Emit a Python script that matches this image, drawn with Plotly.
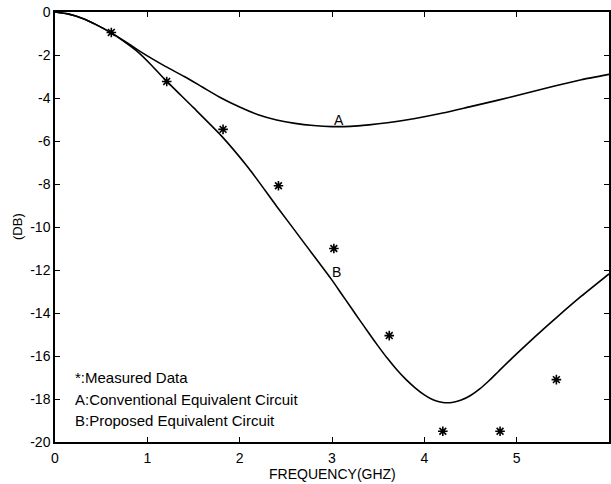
import plotly.graph_objects as go

# Curve A: conventional equivalent circuit
a_freq = [0, 0.15, 0.3, 0.45, 0.6, 0.75, 0.9, 1.05, 1.2, 1.4, 1.6, 1.8, 2.0, 2.2, 2.4, 2.6, 2.8, 3.0, 3.2, 3.4, 3.6, 3.9, 4.2, 4.5, 4.8, 5.1, 5.4, 5.7, 6.0]
a_db = [0, -0.1, -0.3, -0.6, -0.95, -1.35, -1.77, -2.17, -2.54, -3.0, -3.5, -4.0, -4.42, -4.78, -5.02, -5.18, -5.28, -5.33, -5.32, -5.25, -5.15, -4.95, -4.7, -4.4, -4.1, -3.78, -3.45, -3.15, -2.9]

# Curve B: proposed equivalent circuit
b_freq = [0, 0.15, 0.3, 0.45, 0.6, 0.75, 0.9, 1.05, 1.2, 1.5, 1.8, 2.1, 2.4, 2.7, 3.0, 3.1, 3.2, 3.3, 3.4, 3.5, 3.6, 3.7, 3.8, 3.9, 4.0, 4.1, 4.2, 4.3, 4.4, 4.5, 4.6, 4.7, 4.8, 4.97, 5.2, 5.44, 5.7, 6.0]
b_db = [0, -0.1, -0.3, -0.6, -0.95, -1.38, -1.87, -2.5, -3.18, -4.45, -5.75, -7.28, -9.03, -10.75, -12.47, -13.09, -13.71, -14.33, -14.94, -15.54, -16.11, -16.63, -17.09, -17.48, -17.81, -18.05, -18.16, -18.16, -18.05, -17.84, -17.53, -17.15, -16.73, -16.02, -15.1, -14.18, -13.22, -12.18]

# Measured data
m_freq = [0.61, 1.21, 1.82, 2.42, 3.02, 3.62, 4.2, 4.82, 5.43]
m_db = [-0.95, -3.23, -5.46, -8.08, -11.0, -15.05, -19.5, -19.5, -17.1]

x_ticks = [0, 1, 2, 3, 4, 5, 6]
y_ticks = [0, -2, -4, -6, -8, -10, -12, -14, -16, -18, -20]

fnt = "Liberation Sans, Arial, sans-serif"

fig = go.Figure()
fig.add_trace(go.Scatter(x=a_freq, y=a_db, mode="lines",
                         line=dict(color="black", width=1.6, shape="spline", smoothing=0.6),
                         showlegend=False))
fig.add_trace(go.Scatter(x=b_freq, y=b_db, mode="lines",
                         line=dict(color="black", width=1.6, shape="spline", smoothing=0.6),
                         showlegend=False))
fig.add_trace(go.Scatter(x=m_freq, y=m_db, mode="markers",
                         marker=dict(symbol="asterisk-open", size=8, color="black",
                                     line=dict(color="black", width=1.6)),
                         showlegend=False))

fig.update_layout(
    width=611, height=484,
    margin=dict(l=55, r=0, t=12, b=42),
    paper_bgcolor="white", plot_bgcolor="white",
    font=dict(family=fnt, size=14, color="black"),
    xaxis=dict(range=[0, 6], tickvals=x_ticks, ticktext=[str(v) for v in x_ticks],
               showline=True, linecolor="black", linewidth=1.5, mirror="ticks",
               ticks="inside", ticklen=5, tickcolor="black", showgrid=False, zeroline=False,
               tickfont=dict(size=14, family=fnt), ticklabelstandoff=2),
    yaxis=dict(range=[-20, 0], tickvals=y_ticks, ticktext=[str(v) for v in y_ticks],
               showline=True, linecolor="black", linewidth=1.5, mirror="ticks",
               ticks="inside", ticklen=5, tickcolor="black", showgrid=False, zeroline=False,
               tickfont=dict(size=14, family=fnt)),
    annotations=[
        dict(text="FREQUENCY(GHZ)", xref="paper", yref="paper", x=0.5, y=0,
             yanchor="top", yshift=-22, showarrow=False, font=dict(size=14, family=fnt)),
        dict(text="(DB)", xref="paper", yref="paper", x=0, y=0.5,
             xanchor="center", xshift=-38, textangle=-90, showarrow=False,
             font=dict(size=13, family=fnt)),
        dict(text="A", x=3.08, y=-5.02, showarrow=False, font=dict(size=14, family=fnt)),
        dict(text="B", x=3.05, y=-12.09, showarrow=False, font=dict(size=14, family=fnt)),
        dict(text="*:Measured Data", x=0.19, y=-17.02, xanchor="left", showarrow=False,
             font=dict(size=15, family=fnt)),
        dict(text="A:Conventional Equivalent Circuit", x=0.19, y=-18.0, xanchor="left",
             showarrow=False, font=dict(size=15, family=fnt)),
        dict(text="B:Proposed Equivalent Circuit", x=0.19, y=-18.98, xanchor="left",
             showarrow=False, font=dict(size=15, family=fnt)),
    ],
)

fig.write_html("out.html", config={"displayModeBar": False},
               post_script="document.body.style.margin='0';")
